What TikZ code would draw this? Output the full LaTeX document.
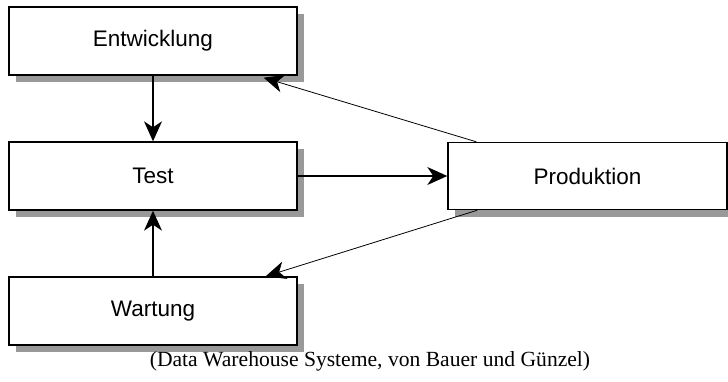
\documentclass[tikz,border=0pt]{standalone}
\usepackage{fontspec}
\setmainfont{Liberation Serif}
\newfontfamily\boxfont{Liberation Sans}
\usepackage{tikz}
\usetikzlibrary{calc,positioning,arrows.meta,shadows}
\definecolor{phaseShadow}{HTML}{999999}

\begin{document}
\begin{tikzpicture}[
  x=1pt, y=-1pt,
  phase/.style={draw=black, line width=1.4pt, fill=white, minimum height=68pt, minimum width=288pt,
              inner sep=0pt, font=\boxfont\fontsize{22.5}{26}\selectfont,
              drop shadow={shadow xshift=7pt, shadow yshift=-7pt, fill=phaseShadow, opacity=1}},
  fl/.style={-{Stealth[length=20pt, width=18pt, inset=6pt]}, draw=black, line width=1.4pt},
  fd/.style={-{Stealth[length=20pt, width=18pt, inset=6pt]}, draw=black, line width=0.8pt}
]
\useasboundingbox (0,0) rectangle (728,381);

% ---- phases
\node[phase] (ent)  at (153,41)  {Entwicklung};
\node[phase] (test) at (153,176) {Test};
\node[phase] (wart) at (153,311) {Wartung};
\node[phase, minimum width=279pt, minimum height=67pt] (prod) at (587.5,176) {Produktion};

% ---- flow
\draw[fl] (ent.south)  -- (test.north);
\draw[fl] (wart.north) -- (test.south);
\draw[fl] (test.east)  -- (prod.west);

% ---- back to development / maintenance
\draw[fd] ($(prod.north west)+(29,0)$) -- ($(ent.south east)+(-34,2)$);
\draw[fd] ($(prod.south west)+(30,0)$) -- ($(wart.north east)+(-32,0)$);

% ---- source
\node[font=\fontsize{21.6}{25}\selectfont] (src) at (370,361)
  {(Data Warehouse Systeme, von Bauer und Günzel)};
\end{tikzpicture}
\end{document}
